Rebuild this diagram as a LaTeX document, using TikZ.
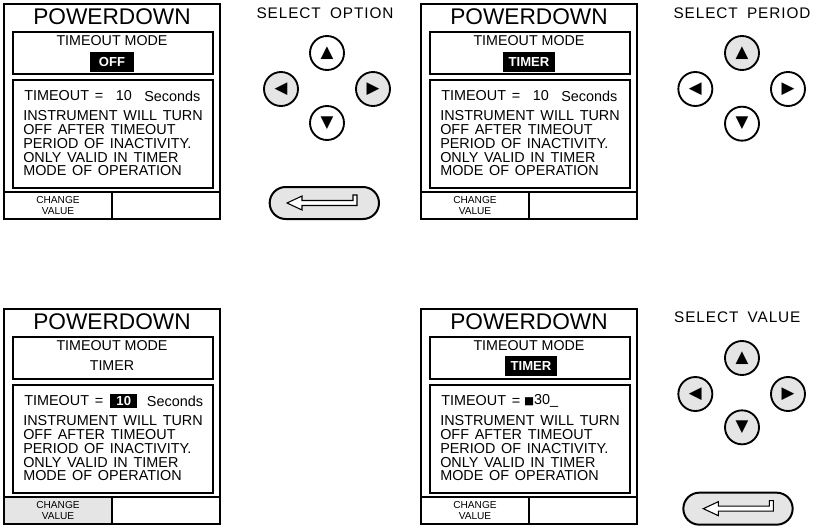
\documentclass[tikz,border=0pt]{standalone}
\usepackage{fontspec}
\setmainfont{Liberation Sans}
\newfontfamily\symfont{DejaVu Sans}
\usepackage{tikz}
\usetikzlibrary{positioning}
\definecolor{keygray}{gray}{0.9}
\tikzset{
  screenframe/.style={draw, line width=1.5pt},
  innerbox/.style={draw, line width=2.2pt},
  titletext/.style={inner sep=0pt, font={\fontsize{17}{18}\selectfont}},
  modetext/.style={inner sep=0pt, font={\fontsize{10.7}{12}\selectfont}},
  valuebox/.style={
    fill=black, text=white, inner xsep=4pt, inner ysep=0pt,
    minimum width=33pt, minimum height=14.5pt,
    font={\fontsize{9.8}{11}\selectfont\bfseries}
  },
  infotext/.style={
    inner sep=0pt, align=left,
    font={\fontsize{10.8}{10.3}\selectfont\spaceskip 0.4em\relax}
  },
  softkey/.style={inner sep=0pt, align=center, font={\fontsize{7.6}{8.25}\selectfont}},
  padlabel/.style={
    inner sep=0pt,
    font={\fontsize{11.5}{13}\selectfont\addfontfeature{LetterSpace=6}\spaceskip 0.6em\relax}
  },
  padbtn/.style={
    on grid, circle, draw, line width=1.4pt,
    minimum size=25.5pt, inner sep=0pt, fill=white,
    font={\symfont\fontsize{12.5}{12.5}\selectfont}
  },
  pressed/.style={fill=keygray},
  enterkey/.style={
    on grid, draw, line width=1.5pt, rounded corners=12pt,
    minimum width=82pt, minimum height=24pt, fill=keygray
  },
  enterarrow/.style={draw, fill=white, line width=0.8pt, line join=miter},
}

% one POWERDOWN screen: #1 name, #2 offset, #3 fill of the soft key
\newcommand{\pdscreen}[3]{%
  \begin{scope}[shift={#2}]
    \draw[screenframe, fill=white] (4,4) rectangle (220,219);
    \fill[#3] (4,192) rectangle (112,219);
    \draw[screenframe] (4,4) rectangle (220,219);
    \draw[screenframe] (4,192) -- (220,192) (112,192) -- (112,219);
    \draw[innerbox] (13,32) rectangle (213,74);
    \draw[innerbox] (13,80) rectangle (213,188);
    \node[titletext] (#1-title) at (112,17) {POWERDOWN};
    \node[modetext] (#1-mode) at (112,41) {TIMEOUT MODE};
    \node[infotext, anchor=west] (#1-tlabel) at (24,96) {TIMEOUT =};
    \node[infotext, anchor=north west] (#1-info) at (23,110.5)
      {INSTRUMENT WILL TURN\\OFF AFTER TIMEOUT\\PERIOD OF INACTIVITY.\\ONLY VALID IN TIMER\\MODE OF OPERATION};
    \node[softkey] (#1-key) at (58,205.5) {CHANGE\\VALUE};
  \end{scope}}

\begin{document}
\begin{tikzpicture}[x=0.75pt, y=-0.75pt]
  \useasboundingbox (0,0) rectangle (821,525);

  % screens
  \pdscreen{scrA}{(0,0)}{white}
  \node[valuebox] (scrA-value) at (112,62) {OFF};
  \node[infotext, right=9pt of scrA-tlabel] (scrA-tval) {10};
  \node[infotext, right=9pt of scrA-tval] (scrA-tunit) {Seconds};

  \pdscreen{scrB}{(417,0)}{white}
  \node[valuebox] (scrB-value) at (529,62) {TIMER};
  \node[infotext, right=9pt of scrB-tlabel] (scrB-tval) {10};
  \node[infotext, right=9pt of scrB-tval] (scrB-tunit) {Seconds};

  \pdscreen{scrC}{(0,305)}{keygray}
  \node[modetext] (scrC-value) at (112,366) {TIMER};
  \node[valuebox, minimum width=20pt, minimum height=10.5pt,
        right=5pt of scrC-tlabel] (scrC-tval) {10};
  \node[infotext, right=7pt of scrC-tval] (scrC-tunit) {Seconds};

  \pdscreen{scrD}{(417,305)}{white}
  \node[valuebox] (scrD-value) at (531,366) {TIMER};
  \node[infotext, right=2.5pt of scrD-tlabel] (scrD-tval)
    {{\symfont\fontsize{8}{8}\selectfont ■}30\_};

  % select option pad
  \node[padbtn] (optUp) at (327,53) {▲};
  \node[padbtn, pressed, below left=27pt and 34.5pt of optUp] (optLeft) {◀};
  \node[padbtn, pressed, below right=27pt and 34.5pt of optUp] (optRight) {▶};
  \node[padbtn, below=52.5pt of optUp] (optDown) {▼};
  \node[padlabel, on grid, above=30pt of optUp, xshift=-1.5pt] (optLabel) {SELECT OPTION};
  \node[enterkey, below=60pt of optDown, xshift=-2pt] (optEnter) {};
  \draw[enterarrow] ([xshift=-28pt]optEnter.center) -- ++(15,-7) -- ++(0,4.5)
    -- ++(51,0) -- ++(0,-5.5) -- ++(4,0) -- ++(0,10.5) -- ++(-55,0)
    -- ++(0,4.5) -- cycle;

  % select period pad
  \node[padbtn, pressed] (perUp) at (742,53) {▲};
  \node[padbtn, below left=27pt and 35pt of perUp] (perLeft) {◀};
  \node[padbtn, below right=27pt and 34.5pt of perUp] (perRight) {▶};
  \node[padbtn, below=53pt of perUp] (perDown) {▼};
  \node[padlabel, on grid, above=30pt of perUp] (perLabel) {SELECT PERIOD};

  % select value pad
  \node[padbtn, pressed] (valUp) at (742,358) {▲};
  \node[padbtn, pressed, below left=27pt and 35pt of valUp] (valLeft) {◀};
  \node[padbtn, pressed, below right=27pt and 34.5pt of valUp] (valRight) {▶};
  \node[padbtn, pressed, below=52pt of valUp] (valDown) {▼};
  \node[padlabel, on grid, above=30.5pt of valUp, xshift=-3.5pt] (valLabel) {SELECT VALUE};
  \node[enterkey, below=61pt of valDown, xshift=-3pt] (valEnter) {};
  \draw[enterarrow] ([xshift=-26pt]valEnter.center) -- ++(15,-7) -- ++(0,4.5)
    -- ++(51,0) -- ++(0,-5.5) -- ++(4,0) -- ++(0,10.5) -- ++(-55,0)
    -- ++(0,4.5) -- cycle;
\end{tikzpicture}
\end{document}
